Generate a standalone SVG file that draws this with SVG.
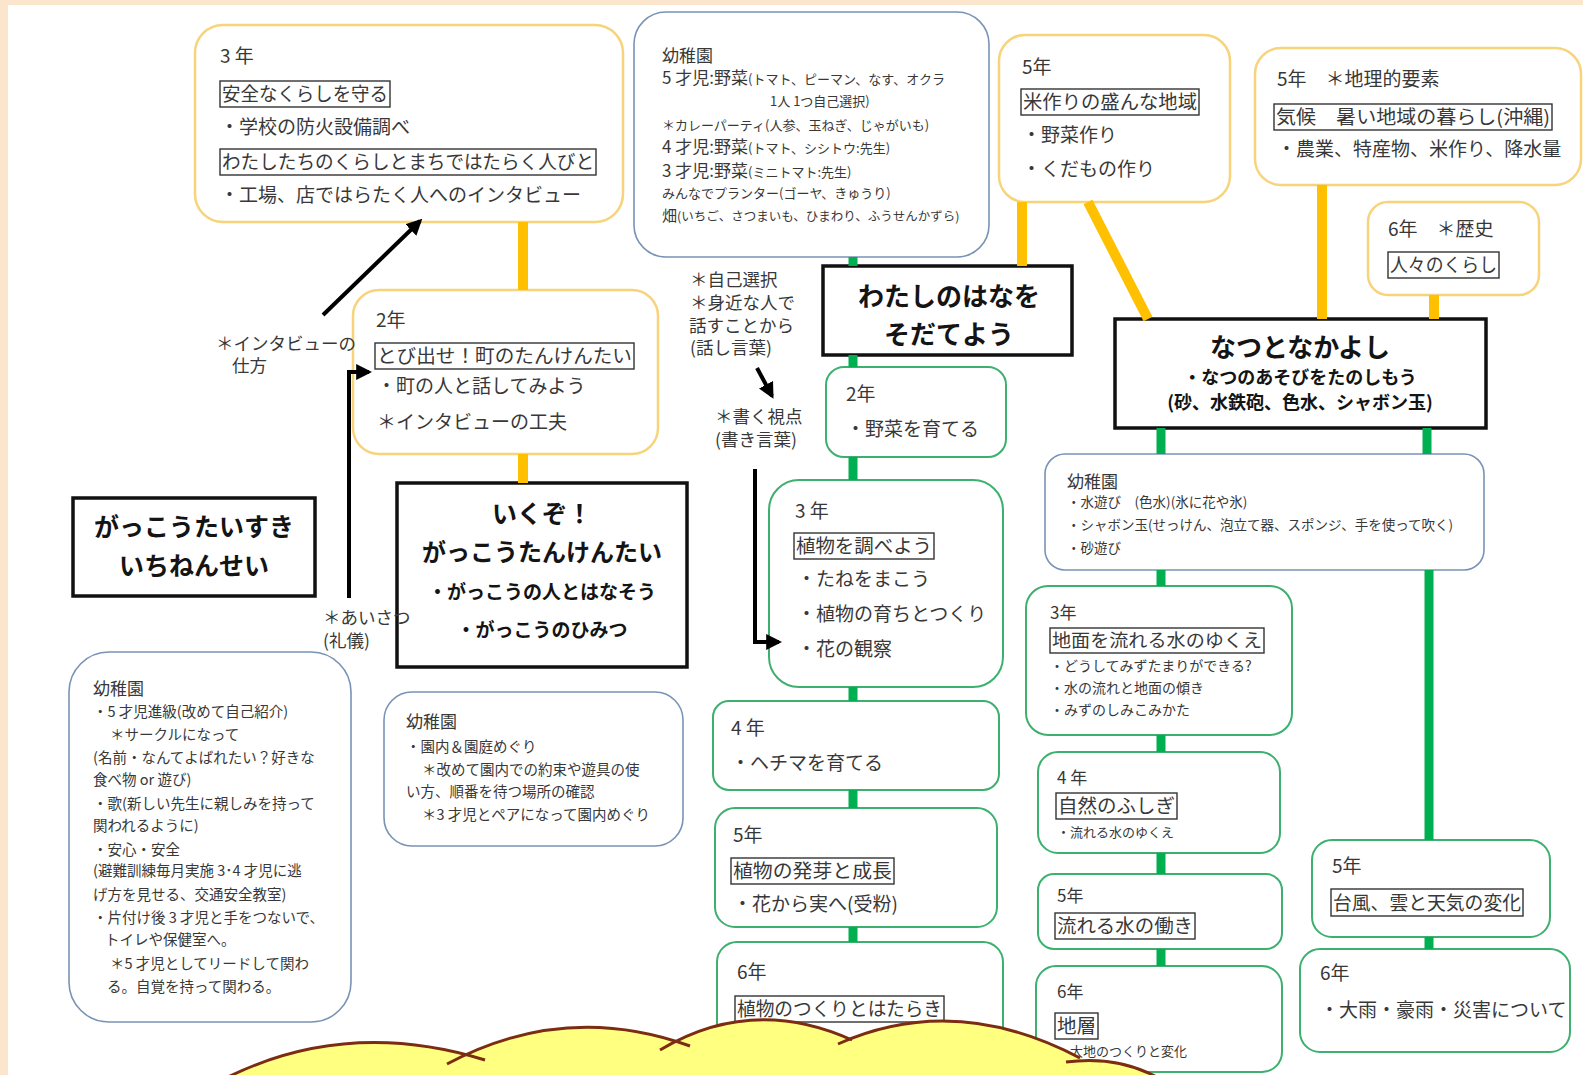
<svg xmlns="http://www.w3.org/2000/svg" width="1583" height="1075" viewBox="0 0 1583 1075">
<style>
.t{font-family:"Noto Sans CJK JP","Noto Sans CJK SC",sans-serif;fill:#383838}
.f19{font-size:19px}.f18{font-size:18px}.f17{font-size:17px}.f15{font-size:14.5px}.f14{font-size:14px}.f13{font-size:13px}
.hd{font-family:"Noto Sans CJK JP",sans-serif;fill:#141414;font-weight:700;text-anchor:middle}
.yb{fill:#fff;stroke:#F7D47C;stroke-width:2.5}
.gb{fill:#fff;stroke:#3DAF6E;stroke-width:2}
.bb{fill:#fff;stroke:#7893B5;stroke-width:1.6}
.kb{fill:#fff;stroke:#111;stroke-width:3.5}
.lb{fill:none;stroke:#333;stroke-width:1.4}
.yc{stroke:#FFC000;stroke-width:10;fill:none}
.gc{stroke:#00B050;stroke-width:9;fill:none}
.ar{stroke:#000;stroke-width:4;fill:none;marker-end:url(#ah)}
.cl{fill:#FFFF80;stroke:none}
.cs{fill:none;stroke:#7B2C12;stroke-width:3}
.lab{font-family:"Noto Sans CJK JP",sans-serif;fill:#383838;font-size:17.5px}
</style>
<defs>
<marker id="ah" viewBox="0 0 10 10" refX="8" refY="5" markerWidth="16" markerHeight="16" markerUnits="userSpaceOnUse" orient="auto">
<path d="M0,0 L10,5 L0,10 z" fill="#000"/>
</marker>
</defs>
<rect x="0" y="0" width="1583" height="1075" fill="#FBE5CC"/>
<rect x="8" y="5" width="1575" height="1070" fill="#fff"/>

<g id="n-3nen-shakai">
<rect class="yb" x="195" y="25" width="428" height="197" rx="28"/>
<text class="t f19" x="220" y="63">3 年</text>
<rect class="lb" x="220" y="81" width="170" height="26"/>
<text class="t f19" x="222" y="101" textLength="166" lengthAdjust="spacingAndGlyphs">安全なくらしを守る</text>
<text class="t f19" x="220" y="134">・学校の防火設備調べ</text>
<rect class="lb" x="220" y="149" width="376" height="26"/>
<text class="t f19" x="222" y="169" textLength="372" lengthAdjust="spacingAndGlyphs">わたしたちのくらしとまちではたらく人びと</text>
<text class="t f19" x="220" y="202">・工場、店ではらたく人へのインタビュー</text>
</g>

<g id="n-youchien-yasai">
<rect class="bb" x="634" y="12" width="355" height="245" rx="32"/>
<text class="t f17" x="662" y="62">幼稚園</text>
<text class="t" x="662" y="84"><tspan font-size="17">5 才児:野菜</tspan><tspan font-size="13">(トマト、ピーマン、なす、オクラ</tspan></text>
<text class="t f13" x="770" y="106">1人 1つ自己選択)</text>
<text class="t f13" x="662" y="130">＊カレーパーティ(人参、玉ねぎ、じゃがいも)</text>
<text class="t" x="662" y="153"><tspan font-size="17">4 才児:野菜</tspan><tspan font-size="13">(トマト、シシトウ:先生)</tspan></text>
<text class="t" x="662" y="177"><tspan font-size="17">3 才児:野菜</tspan><tspan font-size="13">(ミニトマト:先生)</tspan></text>
<text class="t f13" x="662" y="198">みんなでプランター(ゴーヤ、きゅうり)</text>
<text class="t" x="662" y="221"><tspan font-size="15">畑</tspan><tspan font-size="12.5">(いちご、さつまいも、ひまわり、ふうせんかずら)</tspan></text>
</g>

<g id="n-5nen-kome">
<rect class="yb" x="999" y="35" width="231" height="167" rx="26"/>
<text class="t f19" x="1022" y="74">5年</text>
<rect class="lb" x="1021" y="89" width="178" height="26"/>
<text class="t f19" x="1023" y="109" textLength="174" lengthAdjust="spacingAndGlyphs">米作りの盛んな地域</text>
<text class="t f19" x="1022" y="142">・野菜作り</text>
<text class="t f19" x="1022" y="176">・くだもの作り</text>
</g>

<g id="n-5nen-chiri">
<rect class="yb" x="1255" y="48" width="326" height="137" rx="26"/>
<text class="t f19" x="1277" y="86">5年　＊地理的要素</text>
<rect class="lb" x="1274" y="104" width="278" height="26"/>
<text class="t f19" x="1276" y="124" textLength="274" lengthAdjust="spacingAndGlyphs">気候　暑い地域の暮らし(沖縄)</text>
<text class="t f19" x="1277" y="156">・農業、特産物、米作り、降水量</text>
</g>

<g id="n-6nen-rekishi">
<rect class="yb" x="1368" y="202" width="171" height="93" rx="20"/>
<text class="t f19" x="1388" y="236">6年　＊歴史</text>
<rect class="lb" x="1388" y="252" width="111" height="26"/>
<text class="t f19" x="1390" y="272" textLength="107" lengthAdjust="spacingAndGlyphs">人々のくらし</text>
</g>

<g id="n-2nen-machi">
<rect class="yb" x="353" y="290" width="305" height="164" rx="26"/>
<text class="t f19" x="376" y="327">2年</text>
<rect class="lb" x="375" y="343" width="259" height="26"/>
<text class="t f19" x="377" y="363" textLength="255" lengthAdjust="spacingAndGlyphs">とび出せ！町のたんけんたい</text>
<text class="t f19" x="377" y="393">・町の人と話してみよう</text>
<text class="t f19" x="377" y="429">＊インタビューの工夫</text>
</g>

<g id="n-gakkou-daisuki">
<rect class="kb" x="73" y="498" width="242" height="98"/>
<text class="hd" font-size="25" x="194" y="536">がっこうたいすき</text>
<text class="hd" font-size="25" x="194" y="575">いちねんせい</text>
</g>

<g id="n-ikuzo">
<rect class="kb" x="397" y="483" width="290" height="184"/>
<text class="hd" font-size="25" x="542" y="523">いくぞ！</text>
<text class="hd" font-size="24" x="542" y="561">がっこうたんけんたい</text>
<text class="hd" font-size="19" x="542" y="599">・がっこうの人とはなそう</text>
<text class="hd" font-size="19" x="542" y="637">・がっこうのひみつ</text>
</g>

<g id="n-hana">
<rect class="kb" x="823" y="266" width="249" height="89"/>
<text class="hd" font-size="26" x="949" y="306">わたしのはなを</text>
<text class="hd" font-size="26" x="949" y="344">そだてよう</text>
</g>

<g id="n-natsu">
<rect class="kb" x="1115" y="319" width="371" height="109"/>
<text class="hd" font-size="26" x="1300" y="357">なつとなかよし</text>
<text class="hd" font-size="18" x="1300" y="384">・なつのあそびをたのしもう</text>
<text class="hd" font-size="18" x="1300" y="409">(砂、水鉄砲、色水、シャボン玉)</text>
</g>

<g id="n-2nen-yasai">
<rect class="gb" x="826" y="367" width="180" height="90" rx="18"/>
<text class="t f19" x="846" y="401">2年</text>
<text class="t f19" x="846" y="436">・野菜を育てる</text>
</g>

<g id="n-3nen-shokubutsu">
<rect class="gb" x="769" y="480" width="234" height="207" rx="30"/>
<text class="t f19" x="795" y="518">3 年</text>
<rect class="lb" x="794" y="533" width="140" height="26"/>
<text class="t f19" x="796" y="553" textLength="136" lengthAdjust="spacingAndGlyphs">植物を調べよう</text>
<text class="t f19" x="797" y="586">・たねをまこう</text>
<text class="t f19" x="797" y="621">・植物の育ちとつくり</text>
<text class="t f19" x="797" y="656">・花の観察</text>
</g>

<g id="n-4nen-hechima">
<rect class="gb" x="713" y="701" width="286" height="89" rx="16"/>
<text class="t f19" x="731" y="735">4 年</text>
<text class="t f19" x="731" y="770">・ヘチマを育てる</text>
</g>

<g id="n-5nen-hatsuga">
<rect class="gb" x="715" y="808" width="282" height="119" rx="20"/>
<text class="t f19" x="733" y="842">5年</text>
<rect class="lb" x="731" y="858" width="163" height="26"/>
<text class="t f19" x="733" y="878" textLength="159" lengthAdjust="spacingAndGlyphs">植物の発芽と成長</text>
<text class="t f19" x="733" y="911">・花から実へ(受粉)</text>
</g>

<g id="n-6nen-tsukuri">
<rect class="gb" x="717" y="942" width="286" height="115" rx="20"/>
<text class="t f19" x="737" y="979">6年</text>
<rect class="lb" x="735" y="996" width="209" height="26"/>
<text class="t f19" x="737" y="1016" textLength="205" lengthAdjust="spacingAndGlyphs">植物のつくりとはたらき</text>
</g>

<g id="n-youchien-mizu">
<rect class="bb" x="1045" y="454" width="439" height="116" rx="20"/>
<text class="t f17" x="1067" y="488">幼稚園</text>
<text class="t" font-size="13.5" x="1067" y="507">・水遊び　(色水)(氷に花や氷)</text>
<text class="t" font-size="13.5" x="1067" y="530">・シャボン玉(せっけん、泡立て器、スポンジ、手を使って吹く)</text>
<text class="t" font-size="13.5" x="1067" y="553">・砂遊び</text>
</g>

<g id="n-3nen-mizu">
<rect class="gb" x="1026" y="586" width="266" height="149" rx="22"/>
<text class="t f17" x="1050" y="619">3年</text>
<rect class="lb" x="1050" y="628" width="214" height="25"/>
<text class="t f18" x="1052" y="647" textLength="210" lengthAdjust="spacingAndGlyphs">地面を流れる水のゆくえ</text>
<text class="t f14" x="1050" y="671">・どうしてみずたまりができる?</text>
<text class="t f14" x="1050" y="693">・水の流れと地面の傾き</text>
<text class="t f14" x="1050" y="715">・みずのしみこみかた</text>
</g>

<g id="n-4nen-shizen">
<rect class="gb" x="1038" y="752" width="242" height="101" rx="20"/>
<text class="t f17" x="1057" y="784">4 年</text>
<rect class="lb" x="1056" y="793" width="121" height="26"/>
<text class="t f19" x="1058" y="813" textLength="117" lengthAdjust="spacingAndGlyphs">自然のふしぎ</text>
<text class="t f13" x="1057" y="837">・流れる水のゆくえ</text>
</g>

<g id="n-5nen-nagare">
<rect class="gb" x="1038" y="874" width="244" height="75" rx="16"/>
<text class="t f17" x="1057" y="902">5年</text>
<rect class="lb" x="1055" y="913" width="140" height="26"/>
<text class="t f19" x="1057" y="933" textLength="136" lengthAdjust="spacingAndGlyphs">流れる水の働き</text>
</g>

<g id="n-6nen-chisou">
<rect class="gb" x="1036" y="966" width="246" height="106" rx="20"/>
<text class="t f17" x="1057" y="998">6年</text>
<rect class="lb" x="1055" y="1013" width="43" height="26"/>
<text class="t f19" x="1057" y="1033" textLength="39" lengthAdjust="spacingAndGlyphs">地層</text>
<text class="t f13" x="1057" y="1056">・大地のつくりと変化</text>
</g>

<g id="n-5nen-taifuu">
<rect class="gb" x="1312" y="840" width="238" height="97" rx="20"/>
<text class="t f19" x="1332" y="873">5年</text>
<rect class="lb" x="1331" y="889" width="192" height="27"/>
<text class="t f19" x="1333" y="910" textLength="188" lengthAdjust="spacingAndGlyphs">台風、雲と天気の変化</text>
</g>

<g id="n-6nen-ooame">
<rect class="gb" x="1300" y="949" width="270" height="103" rx="20"/>
<text class="t f19" x="1320" y="980">6年</text>
<text class="t f19" x="1320" y="1017">・大雨・豪雨・災害について</text>
</g>

<g id="n-youchien-shinkyuu">
<rect class="bb" x="69" y="652" width="282" height="370" rx="40"/>
<text class="t f17" x="93" y="695">幼稚園</text>
<text class="t f15" x="93" y="717">・5 才児進級(改めて自己紹介)</text>
<text class="t f15" x="110" y="740">＊サークルになって</text>
<text class="t f15" x="93" y="763">(名前・なんてよばれたい？好きな</text>
<text class="t f15" x="93" y="785">食べ物 or 遊び)</text>
<text class="t f15" x="93" y="809">・歌(新しい先生に親しみを持って</text>
<text class="t f15" x="93" y="831">関われるように)</text>
<text class="t f15" x="93" y="855">・安心・安全</text>
<text class="t f15" x="93" y="876">(避難訓練毎月実施 3･4 才児に逃</text>
<text class="t f15" x="93" y="900">げ方を見せる、交通安全教室)</text>
<text class="t f15" x="93" y="923">・片付け後 3 才児と手をつないで、</text>
<text class="t f15" x="105" y="945">トイレや保健室へ。</text>
<text class="t f15" x="110" y="969">＊5 才児としてリードして関わ</text>
<text class="t f15" x="107" y="992">る。自覚を持って関わる。</text>
</g>

<g id="n-youchien-megur">
<rect class="bb" x="384" y="692" width="299" height="154" rx="28"/>
<text class="t f17" x="406" y="728">幼稚園</text>
<text class="t f15" x="406" y="752">・園内＆園庭めぐり</text>
<text class="t f15" x="422" y="775">＊改めて園内での約束や遊具の使</text>
<text class="t f15" x="406" y="797">い方、順番を待つ場所の確認</text>
<text class="t f15" x="422" y="820">＊3 才児とペアになって園内めぐり</text>
</g>

<g id="labels">
<text class="lab" x="216" y="350">＊インタビューの</text>
<text class="lab" x="232" y="372">仕方</text>
<text class="lab" x="323" y="624">＊あいさつ</text>
<text class="lab" x="323" y="647">(礼儀)</text>
<text class="lab" font-size="18.5" x="690" y="286">＊自己選択</text>
<text class="lab" font-size="18.5" x="690" y="309">＊身近な人で</text>
<text class="lab" font-size="18.5" x="689" y="332">話すことから</text>
<text class="lab" font-size="18.5" x="690" y="354">(話し言葉)</text>
<text class="lab" font-size="18.5" x="715" y="423">＊書く視点</text>
<text class="lab" font-size="18.5" x="715" y="446">(書き言葉)</text>
</g>

<g id="connectors">
<line class="yc" x1="523" y1="222" x2="523" y2="290"/>
<line class="yc" x1="523" y1="454" x2="523" y2="483"/>
<line class="yc" x1="1022" y1="202" x2="1022" y2="266"/>
<line class="yc" stroke-width="12" x1="1088" y1="202" x2="1148" y2="319"/>
<line class="yc" x1="1322" y1="185" x2="1322" y2="319"/>
<line class="yc" x1="1434" y1="295" x2="1434" y2="319"/>
<line class="gc" stroke="#1FA86A" x1="853" y1="257" x2="853" y2="266"/>
<line class="gc" x1="853" y1="355" x2="853" y2="367"/>
<line class="gc" x1="853" y1="457" x2="853" y2="480"/>
<line class="gc" x1="853" y1="687" x2="853" y2="701"/>
<line class="gc" x1="853" y1="790" x2="853" y2="808"/>
<line class="gc" x1="853" y1="927" x2="853" y2="942"/>
<line class="gc" x1="1161" y1="428" x2="1161" y2="454"/>
<line class="gc" x1="1161" y1="570" x2="1161" y2="586"/>
<line class="gc" x1="1161" y1="735" x2="1161" y2="752"/>
<line class="gc" x1="1161" y1="853" x2="1161" y2="874"/>
<line class="gc" x1="1161" y1="949" x2="1161" y2="966"/>
<line class="gc" x1="1427" y1="428" x2="1427" y2="454"/>
<line class="gc" x1="1429" y1="570" x2="1429" y2="840"/>
<line class="gc" x1="1429" y1="937" x2="1429" y2="949"/>
<line class="ar" x1="323" y1="315" x2="420" y2="221"/>
<polyline class="ar" points="349,598 349,372 369,372"/>
<line class="ar" stroke-width="3" x1="757" y1="368" x2="772" y2="396"/>
<polyline class="ar" points="755,469 755,642 779,642"/>
</g>

<g id="cloud">
<path class="cl" d="M222,1080 Q345,1017 485,1060 L447,1064 Q565,1001 690,1046 L660,1050 Q752,995 852,1040 L838,1044 Q955,992 1080,1058 L1066,1062 Q1120,1055 1162,1080 Z"/>
<path class="cl" d="M300,1075 L470,1056 L690,1046 L852,1040 L1080,1058 L1100,1075 Z"/>
<path class="cs" d="M222,1080 Q345,1017 485,1060"/>
<path class="cs" d="M447,1064 Q565,1001 690,1046"/>
<path class="cs" d="M660,1050 Q752,995 852,1040"/>
<path class="cs" d="M838,1044 Q955,992 1080,1058"/>
<path class="cs" d="M1066,1062 Q1120,1055 1162,1080"/>
</g>
</svg>
